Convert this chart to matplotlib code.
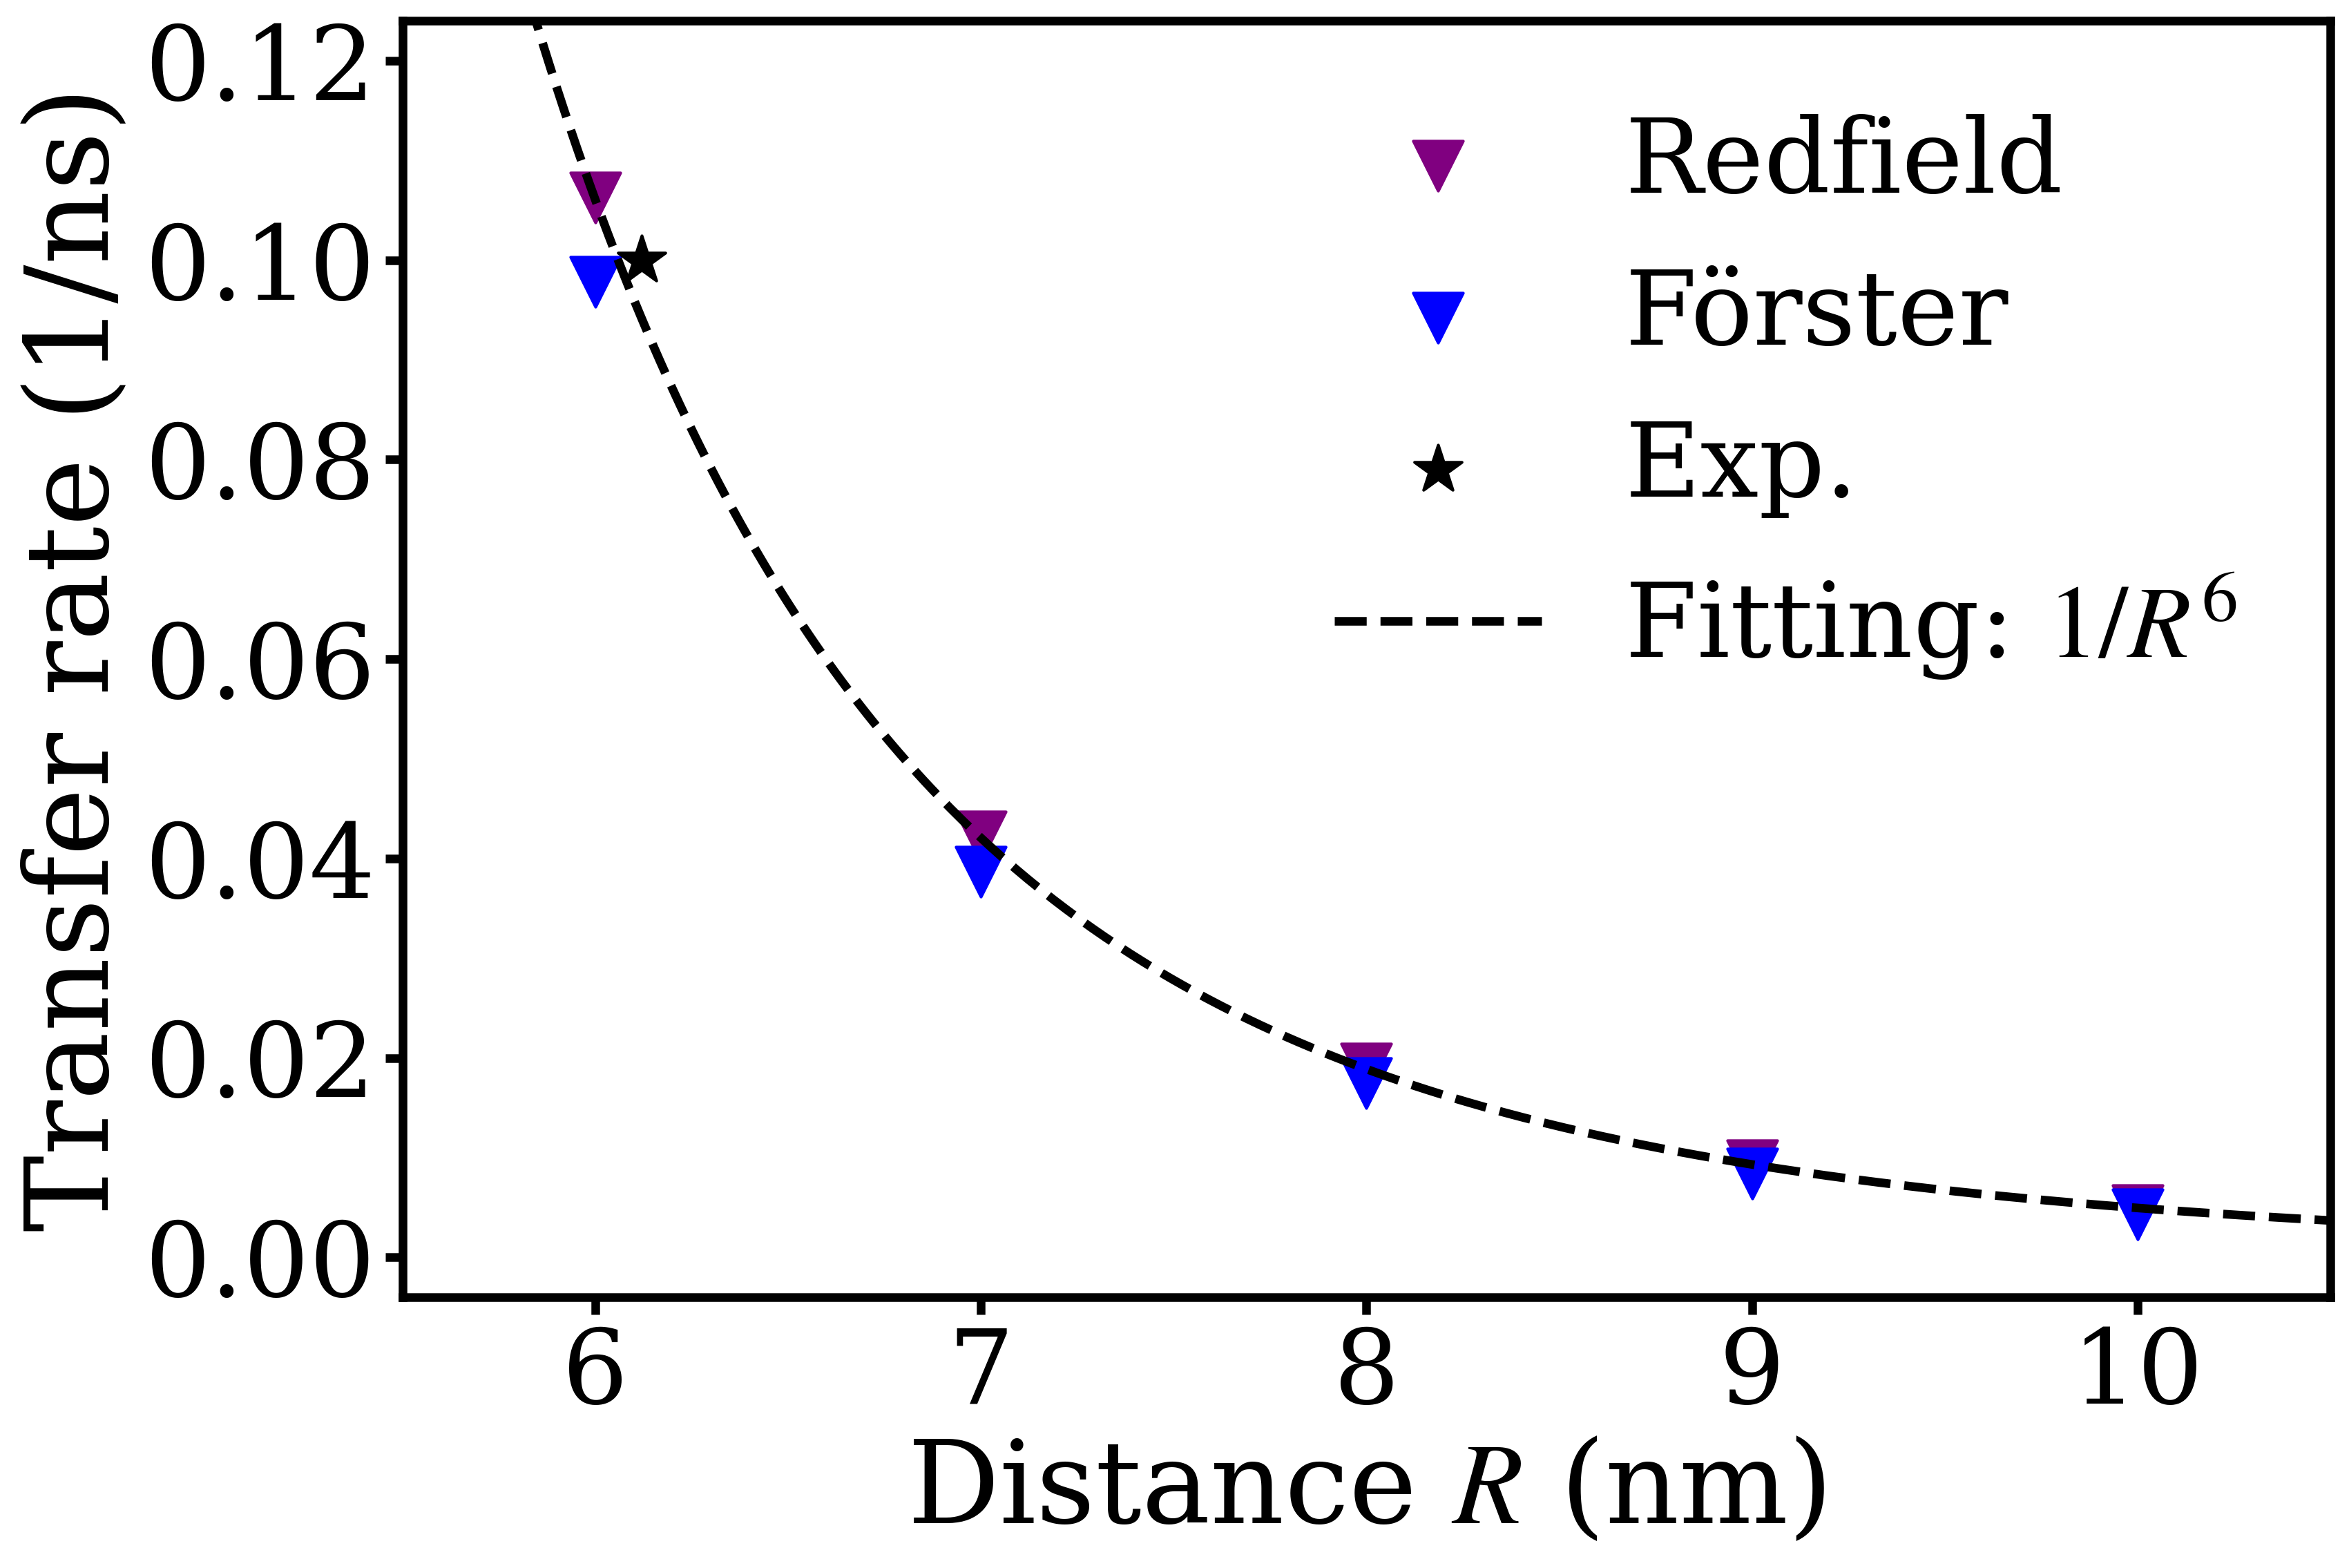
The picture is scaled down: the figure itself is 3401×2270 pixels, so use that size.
#!/usr/bin/env python
#-*- encoding: utf-8 -*-

'''transfer rate vs distance, Redfield / Forster / experiment
'''

import numpy as np
import matplotlib
matplotlib.use('Agg')
import matplotlib.pyplot as plt

plt.rcParams['font.family'] = 'serif'
plt.rcParams['font.serif'] = ['DejaVu Serif']
plt.rcParams['mathtext.fontset'] = 'stix'

distance = [6, 7, 8, 9, 10]
rate_redfield = [0.1063, 0.0422, 0.0189, 0.0092, 0.0047]
rate_forster = [0.0978, 0.0387, 0.0175, 0.0084, 0.0043]
exp_distance = [6.12]
exp_rate = [0.100]
fit_coef = 4950.0  # rate = fit_coef / R^6

def plot(pic_name):
    fig = plt.figure(figsize=(3401 / 300, 2270 / 300))
    ax = fig.add_axes([582.5 / 3401, 1 - 1878 / 2270,
                       (3374 - 582.5) / 3401, (1878 - 30) / 2270])

    ax.scatter(distance, rate_redfield, marker='v', s=300, color='purple',
               label='Redfield')
    ax.scatter(distance, rate_forster, marker='v', s=300, color='blue',
               label='Förster')
    ax.scatter(exp_distance, exp_rate, marker='*', s=300, color='black',
               label='Exp.')
    r = np.linspace(5.5, 10.5, 300)
    ax.plot(r, fit_coef / r ** 6, '--', color='black', lw=3,
            label='Fitting: $1/R^6$')

    ax.set_xlim(5.5, 10.5)
    ax.set_ylim(-0.004, 0.124)
    ax.set_xticks([6, 7, 8, 9, 10])
    ax.set_yticks([0.00, 0.02, 0.04, 0.06, 0.08, 0.10, 0.12])
    ax.set_yticklabels(['0.00', '0.02', '0.04', '0.06', '0.08', '0.10', '0.12'])
    ax.tick_params(labelsize=36, width=3, length=6)
    for sp in ax.spines.values():
        sp.set_linewidth(3)

    ax.set_xlabel('Distance $R$ (nm)', fontsize=40)
    ax.set_ylabel('Transfer rate (1/ns)', fontsize=40)
    ax.legend(fontsize=36, frameon=False, loc='upper right')
    fig.savefig(pic_name, dpi=300)

def main():
    plot('out.png')

if __name__ == '__main__':
    main()
